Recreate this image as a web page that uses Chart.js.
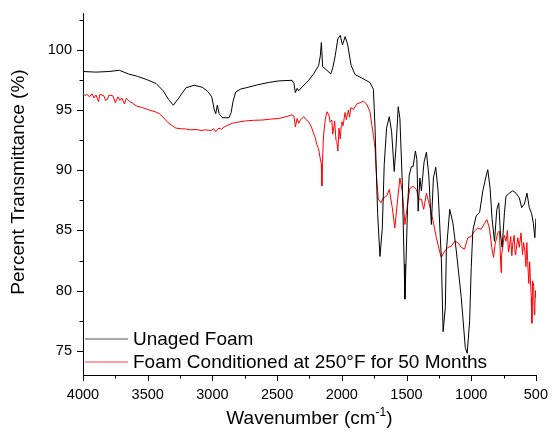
<!DOCTYPE html>
<html>
<head>
<meta charset="utf-8">
<script src="https://cdn.jsdelivr.net/npm/chart.js@4.4.0/dist/chart.umd.min.js"></script>
<style>
  html, body { margin: 0; padding: 0; background: #fff; }
  #chart { display: block; }
</style>
</head>
<body>
<canvas id="chart" width="553" height="434"></canvas>
<script>
// series
const unagedWave = [4000, 3900, 3800, 3718, 3650, 3580, 3512, 3435, 3380, 3340, 3302, 3260, 3205, 3141, 3080, 3038, 3005, 2985, 2974, 2962, 2948, 2923, 2872, 2855, 2841, 2820, 2780, 2743, 2650, 2560, 2487, 2385, 2370, 2359, 2345, 2333, 2300, 2256, 2218, 2179, 2166, 2158, 2148, 2115, 2085, 2070, 2051, 2031, 2012, 1995, 1974, 1954, 1928, 1897, 1846, 1782, 1756, 1743, 1735, 1723, 1705, 1687, 1672, 1654, 1633, 1615, 1595, 1582, 1564, 1551, 1533, 1518, 1512, 1505, 1492, 1479, 1462, 1449, 1431, 1420, 1410, 1397, 1385, 1364, 1346, 1328, 1308, 1292, 1274, 1256, 1231, 1217, 1200, 1192, 1166, 1141, 1115, 1077, 1046, 1031, 1012, 1000, 987, 962, 935, 910, 885, 872, 854, 839, 820, 802, 787, 774, 761, 743, 731, 705, 679, 654, 628, 610, 589, 569, 551, 533, 520, 508, 500];
const unagedT = [98.2, 98.15, 98.2, 98.3, 98.0, 97.8, 97.55, 97.2, 96.6, 95.9, 95.4, 96.0, 96.84, 97.06, 96.9, 96.57, 96.1, 95.0, 94.7, 95.4, 94.7, 94.36, 94.36, 94.8, 95.7, 96.5, 96.75, 96.84, 97.1, 97.3, 97.42, 97.47, 97.2, 96.45, 96.8, 96.6, 97.0, 97.47, 98.0, 98.7, 99.5, 100.6, 98.6, 98.3, 98.0, 98.5, 99.5, 100.9, 101.2, 100.4, 101.1, 100.4, 98.7, 97.94, 97.66, 97.28, 96.73, 93.5, 90.5, 86.4, 82.84, 85.2, 90.5, 93.5, 94.45, 93.2, 89.9, 91.8, 95.27, 94.3, 89.1, 82.2, 79.3, 81.9, 86.9, 89.6, 90.3, 90.3, 91.6, 90.9, 86.6, 89.36, 88.3, 90.7, 91.5, 89.6, 85.5, 89.36, 90.24, 88.3, 82.76, 76.6, 78.6, 83.3, 86.75, 85.6, 83.3, 79.45, 75.3, 74.8, 77.5, 81.9, 85.0, 86.2, 86.5, 88.3, 89.5, 90.05, 88.5, 86.0, 84.1, 86.75, 87.3, 84.7, 83.6, 86.5, 87.85, 88.1, 88.3, 88.1, 87.7, 86.9, 87.2, 88.1, 86.9, 86.4, 85.6, 84.4, 86.0];

const agedWave = [4000, 3985, 3970, 3950, 3930, 3915, 3900, 3880, 3870, 3840, 3825, 3810, 3800, 3769, 3750, 3730, 3715, 3700, 3680, 3666, 3640, 3620, 3589, 3540, 3487, 3440, 3410, 3380, 3346, 3310, 3282, 3240, 3205, 3170, 3128, 3090, 3051, 3010, 2990, 2974, 2950, 2930, 2910, 2880, 2846, 2800, 2743, 2680, 2615, 2550, 2487, 2430, 2385, 2370, 2359, 2345, 2333, 2320, 2295, 2275, 2256, 2235, 2218, 2205, 2192, 2180, 2167, 2158, 2154, 2150, 2141, 2128, 2115, 2100, 2090, 2077, 2070, 2065, 2055, 2045, 2039, 2030, 2022, 2012, 2005, 2000, 1990, 1975, 1965, 1949, 1940, 1930, 1910, 1885, 1860, 1833, 1808, 1782, 1769, 1756, 1743, 1731, 1718, 1697, 1679, 1654, 1633, 1610, 1590, 1572, 1551, 1533, 1512, 1492, 1474, 1449, 1423, 1405, 1385, 1367, 1346, 1320, 1295, 1269, 1243, 1231, 1205, 1179, 1154, 1128, 1102, 1077, 1051, 1026, 1000, 974, 949, 923, 897, 879, 859, 841, 828, 815, 795, 782, 769, 765, 756, 745, 731, 720, 712, 705, 695, 686, 679, 668, 660, 654, 640, 628, 615, 603, 595, 585, 577, 570, 564, 555, 548, 543, 536, 531, 526, 518, 512, 508, 503, 500];
const agedT = [96.37, 96.2, 96.3, 96.1, 96.35, 96.0, 96.25, 95.7, 96.3, 96.2, 95.8, 95.9, 96.25, 96.18, 95.6, 96.1, 95.8, 96.0, 95.5, 95.96, 95.7, 95.6, 95.35, 95.2, 95.0, 94.85, 94.7, 94.4, 93.98, 93.7, 93.5, 93.45, 93.43, 93.35, 93.4, 93.3, 93.35, 93.3, 93.45, 93.2, 93.5, 93.4, 93.6, 93.75, 93.9, 94.0, 94.1, 94.15, 94.17, 94.25, 94.3, 94.45, 94.6, 94.5, 93.6, 94.3, 93.9, 94.17, 94.45, 94.2, 94.03, 93.6, 93.07, 92.7, 92.1, 91.8, 91.0, 90.5, 88.7, 90.6, 92.9, 94.2, 94.86, 94.6, 94.0, 94.17, 93.0, 93.3, 94.1, 92.5, 92.4, 91.6, 93.5, 92.6, 93.6, 94.03, 93.7, 94.8, 94.2, 95.0, 94.4, 95.2, 95.05, 95.5, 95.6, 95.74, 95.5, 94.86, 93.8, 92.9, 91.8, 89.36, 87.6, 87.3, 87.7, 87.85, 88.4, 86.9, 85.2, 87.2, 89.36, 88.3, 85.5, 87.2, 88.5, 88.67, 88.4, 87.6, 87.6, 86.75, 88.1, 87.0, 85.8, 84.4, 83.2, 82.76, 83.3, 83.6, 83.7, 84.1, 84.0, 83.6, 83.45, 84.4, 84.5, 84.96, 85.2, 85.1, 85.6, 85.9, 85.2, 83.6, 82.76, 83.87, 84.8, 84.96, 81.5, 83.0, 83.6, 84.6, 84.1, 85.0, 83.2, 83.6, 84.5, 82.9, 83.87, 84.6, 83.0, 83.3, 84.4, 83.6, 84.8, 83.0, 84.0, 83.3, 82.0, 84.0, 82.5, 80.6, 82.4, 81.1, 79.5, 77.3, 80.8, 80.56, 78.0, 78.6, 80.0, 79.45];

const seriesNames = ['Unaged Foam', 'Foam Conditioned at 250\u00B0F for 50 Months'];
const xMajor = [4000, 3500, 3000, 2500, 2000, 1500, 1000, 500];
const xMinor = [3750, 3250, 2750, 2250, 1750, 1250, 750];
const yMajor = [75, 80, 85, 90, 95, 100];
const yMinor = [77.5, 82.5, 87.5, 92.5, 97.5, 102.5];

const FONT = 'Liberation Sans, Arial, sans-serif';

function toPoints(xs, ys) {
    return xs.map((x, i) => ({ x: x, y: ys[i] }));
}

// tick marks, axis titles and legend
const decorations = {
    id: 'decorations',
    afterDraw(chart) {
        const ctx = chart.ctx;
        const xs = chart.scales.x;
        const ys = chart.scales.y;
        const area = chart.chartArea;
        ctx.save();
        ctx.strokeStyle = '#000';
        ctx.lineWidth = 1;
        ctx.beginPath();
        xMajor.concat(xMinor).forEach(v => {
            const px = Math.round(xs.getPixelForValue(v)) + 0.5;
            const len = xMajor.includes(v) ? 6 : 3.5;
            ctx.moveTo(px, area.bottom);
            ctx.lineTo(px, area.bottom + len);
        });
        yMajor.concat(yMinor).forEach(v => {
            const py = Math.round(ys.getPixelForValue(v)) + 0.5;
            const len = yMajor.includes(v) ? 6 : 3.5;
            ctx.moveTo(area.left, py);
            ctx.lineTo(area.left - len, py);
        });
        ctx.stroke();

        ctx.fillStyle = '#000';
        // y title
        ctx.save();
        ctx.translate(24, 182);
        ctx.rotate(-Math.PI / 2);
        ctx.font = '19px ' + FONT;
        ctx.textAlign = 'center';
        ctx.textBaseline = 'alphabetic';
        ctx.fillText('Percent Transmittance (%)', 0, 0);
        ctx.restore();

        // x title with superscript
        const main = 'Wavenumber (cm';
        const sup = '-1';
        ctx.font = '19px ' + FONT;
        const w1 = ctx.measureText(main).width;
        const w3 = ctx.measureText(')').width;
        ctx.font = '12px ' + FONT;
        const w2 = ctx.measureText(sup).width;
        const total = w1 + w2 + w3;
        let tx = (area.left + area.right) / 2 - total / 2;
        const base = 424;
        ctx.textAlign = 'left';
        ctx.textBaseline = 'alphabetic';
        ctx.font = '19px ' + FONT;
        ctx.fillText(main, tx, base);
        ctx.font = '12px ' + FONT;
        ctx.fillText(sup, tx + w1, base - 8);
        ctx.font = '19px ' + FONT;
        ctx.fillText(')', tx + w1 + w2, base);

        // legend
        const rows = [339, 362];
        chart.data.datasets.forEach((ds, i) => {
            const y = rows[i];
            ctx.strokeStyle = ds.legendColor;
            ctx.lineWidth = 1.5;
            ctx.beginPath();
            ctx.moveTo(area.left + 2, y);
            ctx.lineTo(area.left + 45, y);
            ctx.stroke();
            ctx.fillStyle = '#000';
            ctx.font = '19px ' + FONT;
            ctx.textBaseline = 'middle';
            ctx.fillText(ds.label, area.left + 50, y + 1);
        });
        ctx.restore();
    }
};

new Chart(document.getElementById('chart').getContext('2d'), {
    type: 'line',
    data: {
        datasets: [
            {
                label: seriesNames[0],
                data: toPoints(unagedWave, unagedT),
                borderColor: '#000000',
                legendColor: '#8c8c8c',
                borderWidth: 1,
                pointRadius: 0,
                tension: 0
            },
            {
                label: seriesNames[1],
                data: toPoints(agedWave, agedT),
                borderColor: '#ff0000',
                legendColor: '#ff8080',
                borderWidth: 1,
                pointRadius: 0,
                tension: 0
            }
        ]
    },
    options: {
        responsive: false,
        animation: false,
        devicePixelRatio: 1,
        layout: { padding: { top: 12, right: 15, left: 0, bottom: 0 } },
        plugins: {
            legend: { display: false },
            tooltip: { enabled: false }
        },
        scales: {
            x: {
                type: 'linear',
                reverse: true,
                min: 500,
                max: 4000,
                afterBuildTicks: scale => { scale.ticks = xMajor.map(v => ({ value: v })); },
                afterFit: scale => { scale.height = 59; },
                ticks: {
                    color: '#000',
                    font: { family: FONT, size: 14.5 },
                    padding: 5,
                    maxRotation: 0,
                    autoSkip: false,
                    callback: v => String(v)
                },
                grid: { display: true, drawOnChartArea: false, drawTicks: true, tickLength: 6, color: 'rgba(0,0,0,0)' },
                border: { display: true, color: '#000', width: 1 }
            },
            y: {
                min: 73,
                max: 103,
                afterBuildTicks: scale => { scale.ticks = yMajor.map(v => ({ value: v })); },
                afterFit: scale => { scale.width = 83; },
                ticks: {
                    color: '#000',
                    font: { family: FONT, size: 14.5 },
                    padding: 5,
                    autoSkip: false,
                    callback: v => String(v)
                },
                grid: { display: true, drawOnChartArea: false, drawTicks: true, tickLength: 6, color: 'rgba(0,0,0,0)' },
                border: { display: true, color: '#000', width: 1 }
            }
        }
    },
    plugins: [decorations]
});
</script>
</body>
</html>
